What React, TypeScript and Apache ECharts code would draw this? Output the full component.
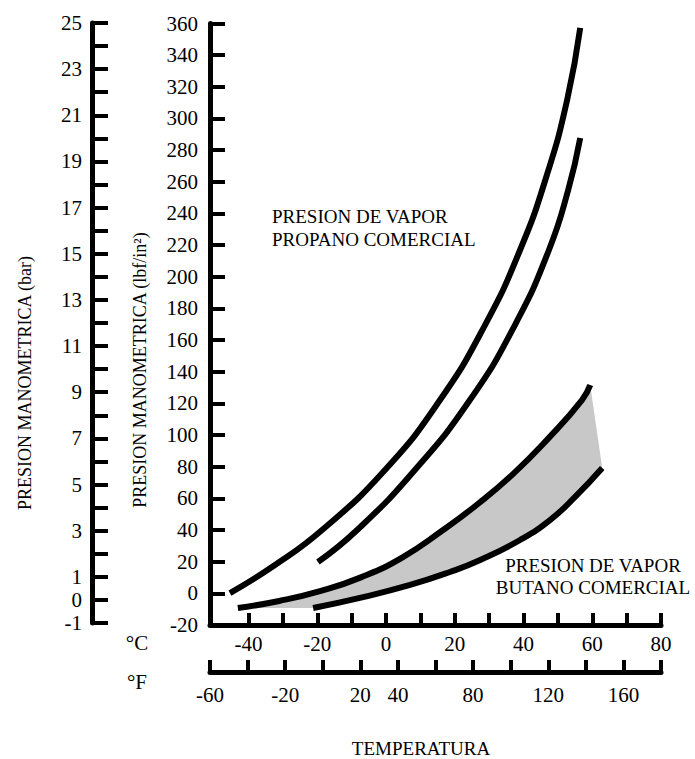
import React, { useEffect, useRef } from "react";
import * as echarts from "echarts";

// Tick values / labels
const celsiusTicks = [-40, -30, -20, -10, 0, 10, 20, 30, 40, 50, 60, 70, 80];
const celsiusLabels = [-40, -20, 0, 20, 40, 60, 80];
const fahrenheitLabels = [-60, -20, 20, 40, 80, 120, 160];
const barLabels = [-1, 0, 1, 3, 5, 7, 9, 11, 13, 15, 17, 19, 21, 23, 25];

// Curves: [°C, psi]
const propanoSuperior = [
  [-45.4, 0.2], [-32.3, 17.9], [-18.6, 40], [-0.3, 77.9], [15.7, 122.1],
  [28.8, 169.5], [39.0, 216.9], [46.8, 264.3], [52.7, 311.8], [56.5, 357.2],
];
const propanoInferior = [
  [-19.8, 19.8], [-8.4, 40], [8.4, 77.9], [24.4, 122.1], [37.5, 169.5],
  [47.4, 216.9], [53.0, 254.8], [56.5, 287.7],
];
const butanoSuperior = [
  [-43.1, -9.3], [-31.1, -4.8], [-19.2, 1.4], [-7.3, 10.1], [4.7, 22.6],
  [16.6, 40], [26.8, 56.6], [37.0, 75.5], [47.1, 97.6], [57.0, 122.1], [59.4, 131.6],
];
const butanoInferior = [
  [-21.2, -9.3], [-7.6, -2.9], [7.0, 5.3], [18.6, 13.5], [27.4, 21.1],
  [39.0, 33.7], [47.7, 46.3], [55.0, 60.9], [62.9, 79.2],
];

const FONT = "Liberation Serif";
const TICK_FONT = 21;

export default function App() {
  const ref = useRef<HTMLDivElement>(null);

  useEffect(() => {
    if (!ref.current) return;
    const chart = echarts.init(ref.current, null, { renderer: "svg" });

    const lineSeries = (data: number[][]) => ({
      type: "line",
      xAxisIndex: 0,
      yAxisIndex: 0,
      data,
      showSymbol: false,
      smooth: 0.5,
      silent: true,
      z: 3,
      lineStyle: { width: 6, color: "#000", cap: "butt" },
    });

    const axisLineStyle = { show: true, onZero: false, lineStyle: { color: "#000", width: 5 } };
    const tickStyle = (len: number) => ({
      show: true,
      inside: true,
      length: len,
      lineStyle: { color: "#000", width: 4 },
    });
    const labelBase = { color: "#000", fontFamily: FONT, fontSize: TICK_FONT };

    const option: any = {
      animation: false,
      backgroundColor: "#fff",
      grid: [
        { left: 210, top: 23.5, width: 451, height: 601.5, outerBoundsMode: "none" },
        { left: 92, top: 23, width: 1, height: 600, outerBoundsMode: "none" },
      ],
      xAxis: [
        {
          type: "value",
          gridIndex: 0,
          position: "bottom",
          min: -51.2,
          max: 80,
          axisLine: axisLineStyle,
          axisTick: { ...tickStyle(12), customValues: celsiusTicks },
          axisLabel: { ...labelBase, margin: 8, customValues: celsiusLabels },
          splitLine: { show: false },
        },
        {
          type: "value",
          gridIndex: 0,
          position: "bottom",
          offset: 47,
          min: -60,
          max: 180,
          interval: 20,
          axisLine: axisLineStyle,
          axisTick: tickStyle(12),
          axisLabel: {
            ...labelBase,
            margin: 12,
            showMinLabel: true,
            showMaxLabel: true,
            formatter: (v: number) => (fahrenheitLabels.includes(v) ? String(v) : ""),
          },
          splitLine: { show: false },
        },
        {
          type: "value",
          gridIndex: 1,
          show: false,
          min: 0,
          max: 1,
        },
      ],
      yAxis: [
        {
          type: "value",
          gridIndex: 0,
          position: "left",
          min: -20,
          max: 360,
          interval: 20,
          axisLine: axisLineStyle,
          axisTick: tickStyle(15),
          axisLabel: { ...labelBase, margin: 12 },
          splitLine: { show: false },
        },
        {
          type: "value",
          gridIndex: 1,
          position: "left",
          min: -1,
          max: 25,
          interval: 1,
          axisLine: axisLineStyle,
          axisTick: tickStyle(16),
          axisLabel: {
            ...labelBase,
            margin: 10,
            showMinLabel: true,
            showMaxLabel: true,
            formatter: (v: number) => (barLabels.includes(v) ? String(v) : ""),
          },
          splitLine: { show: false },
        },
      ],
      series: [
        {
          type: "custom",
          xAxisIndex: 0,
          yAxisIndex: 0,
          silent: true,
          z: 1,
          data: [[0, 0]],
          renderItem: (_params: any, api: any) => {
            const pts = [
              ...butanoSuperior.map((p) => api.coord(p)),
              ...butanoInferior.slice().reverse().map((p) => api.coord(p)),
            ];
            return {
              type: "polygon",
              shape: { points: pts },
              style: { fill: "#c8c8c8", stroke: "none" },
            };
          },
        },
        lineSeries(propanoSuperior),
        lineSeries(propanoInferior),
        lineSeries(butanoSuperior),
        lineSeries(butanoInferior),
      ],
      graphic: [
        {
          type: "text",
          x: 25,
          y: 383,
          rotation: Math.PI / 2,
          style: {
            text: "PRESION MANOMETRICA (bar)",
            fontFamily: FONT,
            fontSize: 18,
            fill: "#000",
            align: "center",
            verticalAlign: "middle",
          },
        },
        {
          type: "text",
          x: 140,
          y: 370,
          rotation: Math.PI / 2,
          style: {
            text: "PRESION MANOMETRICA (lbf/in²)",
            fontFamily: FONT,
            fontSize: 18,
            fill: "#000",
            align: "center",
            verticalAlign: "middle",
          },
        },
        {
          type: "text",
          x: 272,
          y: 228,
          style: {
            text: "PRESION DE VAPOR\nPROPANO COMERCIAL",
            fontFamily: FONT,
            fontSize: 19,
            lineHeight: 23,
            fill: "#000",
            align: "left",
            verticalAlign: "middle",
          },
        },
        {
          type: "text",
          x: 593,
          y: 576,
          style: {
            text: "PRESION DE VAPOR\nBUTANO COMERCIAL",
            fontFamily: FONT,
            fontSize: 19,
            lineHeight: 22,
            fill: "#000",
            align: "center",
            verticalAlign: "middle",
          },
        },
        {
          type: "text",
          x: 421,
          y: 748,
          style: {
            text: "TEMPERATURA",
            fontFamily: FONT,
            fontSize: 19,
            fill: "#000",
            align: "center",
            verticalAlign: "middle",
          },
        },
        {
          type: "text",
          x: 137,
          y: 643,
          style: {
            text: "°C",
            fontFamily: FONT,
            fontSize: 21,
            fill: "#000",
            align: "center",
            verticalAlign: "middle",
          },
        },
        {
          type: "text",
          x: 137,
          y: 682,
          style: {
            text: "°F",
            fontFamily: FONT,
            fontSize: 21,
            fill: "#000",
            align: "center",
            verticalAlign: "middle",
          },
        },
      ],
    };

    chart.setOption(option);
    return () => chart.dispose();
  }, []);

  return (
    <div
      ref={ref}
      style={{ position: "fixed", left: 0, top: 0, width: 695, height: 759, background: "#fff" }}
    />
  );
}
